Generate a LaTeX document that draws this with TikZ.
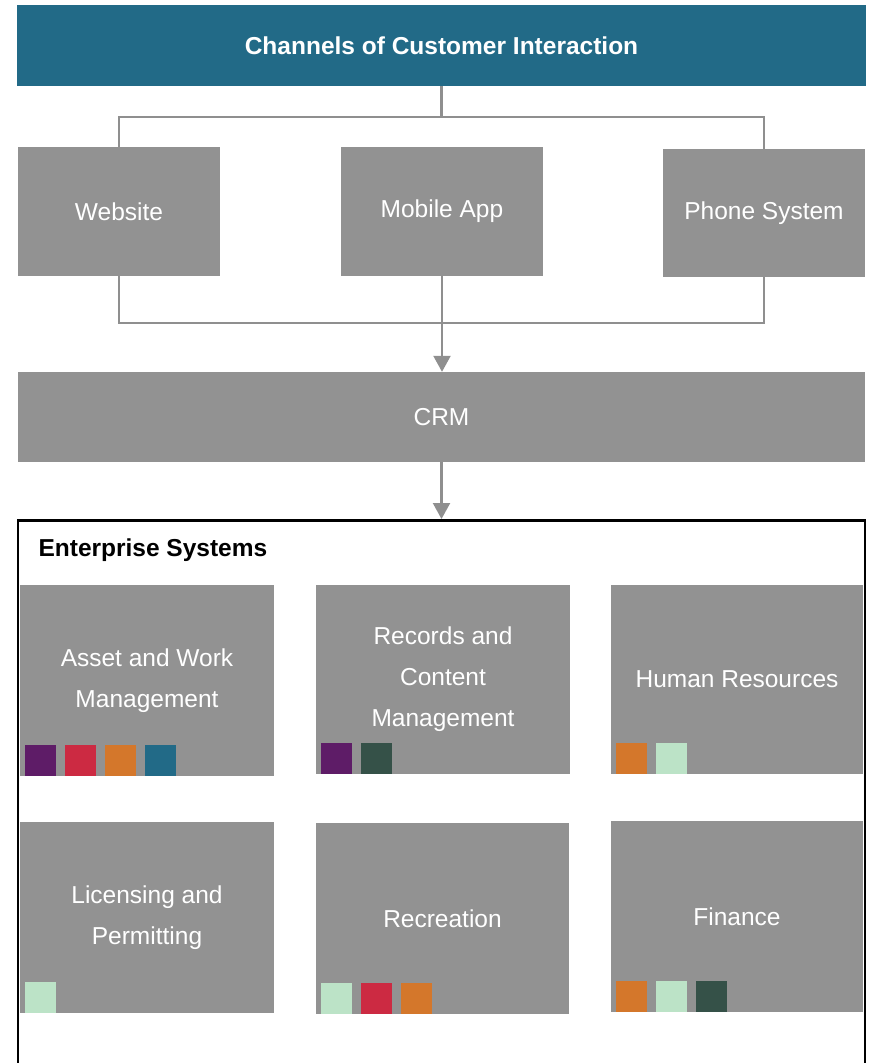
\documentclass[tikz,border=0pt]{standalone}
\usepackage{fontspec}
\setmainfont{Liberation Sans}
\usetikzlibrary{arrows.meta}

\definecolor{tealblue}{HTML}{226A87}
\definecolor{boxgray}{HTML}{929292}
\definecolor{linegray}{HTML}{8F8F8F}
\definecolor{plum}{HTML}{5E1C67}
\definecolor{crimson}{HTML}{CC2A42}
\definecolor{amber}{HTML}{D4772B}
\definecolor{pine}{HTML}{355148}
\definecolor{mint}{HTML}{BCE3C7}

\tikzset{
	sysbox/.style={fill=boxgray, text=white, inner sep=0pt, align=center,
		font=\fontsize{24.5}{41}\selectfont},
	link/.style={draw=linegray, line width=2.2pt},
	flow/.style={link, -{Triangle[length=16pt, width=17pt]}},
	tag/.style={inner sep=0pt, minimum size=31pt}
}

\begin{document}
\begin{tikzpicture}[x=1pt, y=-1pt]
			\useasboundingbox (0,0) rectangle (869,1063);
			% channels
			\node[fill=tealblue, text=white, minimum width=849pt, minimum height=81pt,
				font=\fontsize{24.5}{30}\selectfont\bfseries] (head) at (441.5,45.5) {Channels of Customer Interaction};
			\node[sysbox, minimum width=202pt, minimum height=129pt] (web) at (119,211.5) {Website};
			\node[sysbox, minimum width=202pt, minimum height=129pt] (app) at (442,211.5) {Mobile App};
			\node[sysbox, minimum width=202pt, minimum height=128pt] (phone) at (764,213) {Phone System};
			\node[sysbox, minimum width=847pt, minimum height=90pt] (crm) at (441.5,417) {CRM};
			\path
			(441.5,117) coordinate (split)
			(441.5,323) coordinate (merge);
			\draw[link]
			(head.south)--(split) (web.north) |- (split) -| (phone.north) (split)--(split -| app.north)
			(web.south) |- (merge) -| (phone.south);
			\draw[flow] (app.south)--(app.south |- crm.north);
			% enterprise systems
			\node[draw=black, line width=2.5pt, minimum width=847pt, minimum height=620pt,
				anchor=north, inner sep=0pt] (ent) at (441.5,519) {};
			\node[anchor=west, font=\fontsize{24.5}{30}\selectfont\bfseries] (entlabel) at (35,550) {Enterprise Systems};
			\draw[flow] (crm.south)--(crm.south |- ent.north);
			\node[sysbox, minimum width=254pt, minimum height=191pt] (asset) at (147,680.5) {Asset and Work\\Management};
			\node[sysbox, minimum width=254pt, minimum height=189pt] (records) at (443,679.5) {Records and\\Content\\Management};
			\node[sysbox, minimum width=252pt, minimum height=189pt] (hr) at (737,679.5) {Human Resources};
			\node[sysbox, minimum width=254pt, minimum height=191pt] (lic) at (147,917.5) {Licensing and\\Permitting};
			\node[sysbox, minimum width=253pt, minimum height=191pt] (rec) at (442.5,918.5) {Recreation};
			\node[sysbox, minimum width=252pt, minimum height=191pt] (fin) at (737,916.5) {Finance};
			% coloured tags along the foot of each box
			\foreach \b/\list in {asset/{plum,crimson,amber,tealblue}, records/{plum,pine}, hr/{amber,mint},
				lic/{mint}, rec/{mint,crimson,amber}, fin/{amber,mint,pine}}
			\foreach \c [count=\i] in \list
			\node[tag, fill=\c, anchor=south west] at ([xshift={5+(\i-1)*40}] \b.south west) {};
		\end{tikzpicture}
\end{document}
